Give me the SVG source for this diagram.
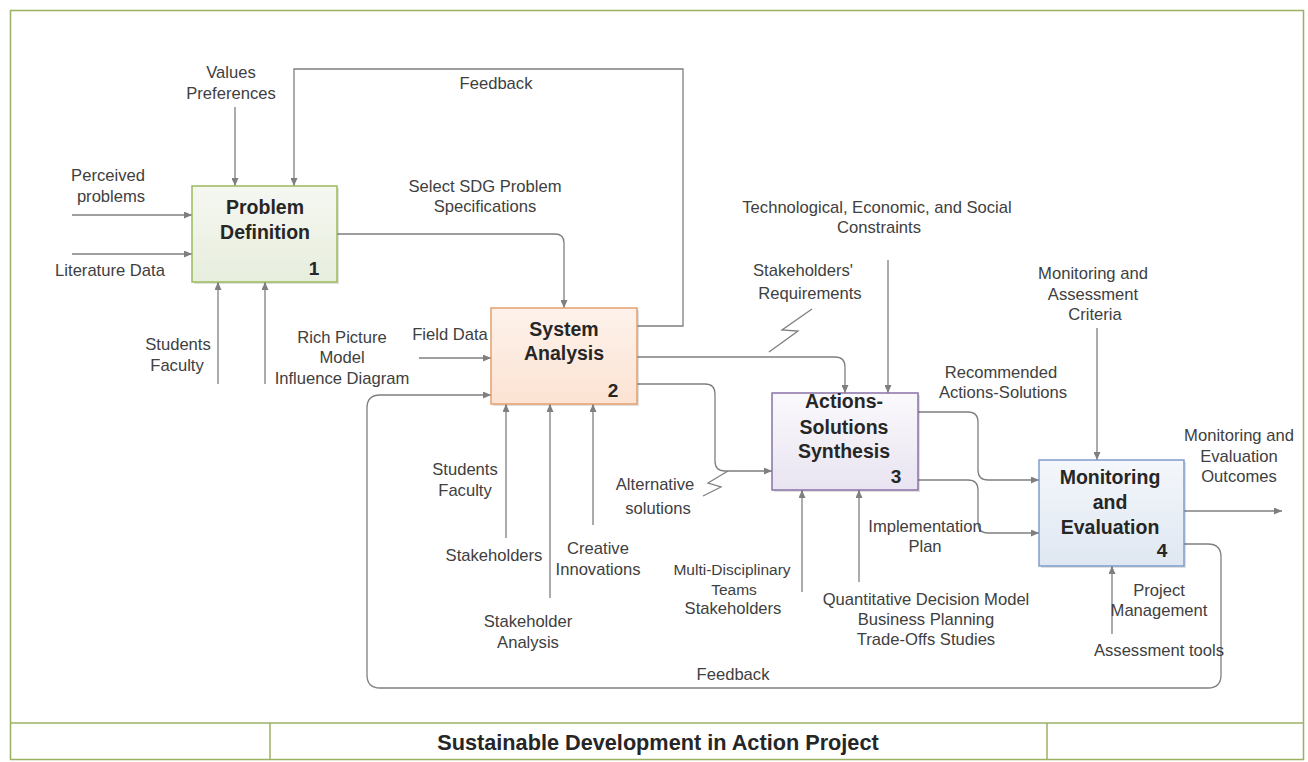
<svg xmlns="http://www.w3.org/2000/svg" width="1308" height="762" viewBox="0 0 1308 762">
  <style>
    .lbl { font-family: "Liberation Sans", Arial, sans-serif; font-size: 16.6px; fill: #404040; text-anchor: middle; }
    .sm { font-size: 15.5px; }
    .ttl { font-family: "Liberation Sans", Arial, sans-serif; font-size: 19.5px; font-weight: bold; fill: #262626; text-anchor: middle; }
    .num { font-family: "Liberation Sans", Arial, sans-serif; font-size: 19px; font-weight: bold; fill: #262626; text-anchor: middle; }
    .head { font-family: "Liberation Sans", Arial, sans-serif; font-size: 21.7px; font-weight: bold; fill: #262626; text-anchor: middle; }
    .wire { fill: none; stroke: #7f7f7f; stroke-width: 1.3; }
    .arr { marker-end: url(#ah); }
    .frame { fill: none; stroke: #9bb063; stroke-width: 1.5; }
    .shadow { fill: #000; opacity: 0.12; }
  </style>
  <defs>
    <marker id="ah" markerUnits="userSpaceOnUse" markerWidth="8" markerHeight="7" refX="8" refY="3.5" orient="auto">
      <path d="M0,0 L8,3.5 L0,7 z" fill="#7f7f7f"/>
    </marker>
    <linearGradient id="g1" x1="0" y1="0" x2="0" y2="1">
      <stop offset="0" stop-color="#f5f7f1"/>
      <stop offset="1" stop-color="#e7eedd"/>
    </linearGradient>
    <linearGradient id="g2" x1="0" y1="0" x2="0" y2="1">
      <stop offset="0" stop-color="#fdf2eb"/>
      <stop offset="1" stop-color="#fce3d3"/>
    </linearGradient>
    <linearGradient id="g3" x1="0" y1="0" x2="0" y2="1">
      <stop offset="0" stop-color="#faf9fc"/>
      <stop offset="1" stop-color="#e9e4f1"/>
    </linearGradient>
    <linearGradient id="g4" x1="0" y1="0" x2="0" y2="1">
      <stop offset="0" stop-color="#f4f7fb"/>
      <stop offset="1" stop-color="#dfe7f2"/>
    </linearGradient>
  </defs>

  <rect width="1308" height="762" fill="#ffffff"/>

  <!-- outer frame and title block -->
  <g id="frame">
    <rect class="frame" x="10.5" y="10.5" width="1293" height="749"/>
    <line class="frame" x1="10.5" y1="723" x2="1303.5" y2="723"/>
    <line class="frame" x1="270" y1="723" x2="270" y2="759.5"/>
    <line class="frame" x1="1047" y1="723" x2="1047" y2="759.5"/>
    <text class="head" x="658" y="749.5">Sustainable Development in Action Project</text>
  </g>

  <!-- connectors -->
  <g id="connectors">
    <!-- inputs to Problem Definition -->
    <path class="wire arr" d="M72,215 H192"/>
    <path class="wire arr" d="M72,254 H192"/>
    <path class="wire arr" d="M235,107 V186"/>
    <path class="wire arr" d="M218,384 V282"/>
    <path class="wire arr" d="M265,384 V282"/>
    <!-- top feedback: System Analysis back to Problem Definition -->
    <path class="wire arr" d="M637,326 H683 V69 H294 V186"/>
    <!-- Problem Definition to System Analysis -->
    <path class="wire arr" d="M337,234 H555 Q564,234 564,243 V308"/>
    <!-- Field Data -->
    <path class="wire arr" d="M419,358 H491"/>
    <!-- inputs under System Analysis -->
    <path class="wire arr" d="M506,538 V404"/>
    <path class="wire arr" d="M550,598 V404"/>
    <path class="wire arr" d="M593,525 V404"/>
    <!-- System Analysis to Synthesis -->
    <path class="wire arr" d="M637,357 H835 Q845,357 845,367 V393"/>
    <path class="wire arr" d="M637,384 H705 Q715,384 715,394 V461 Q715,471 725,471 H772"/>
    <!-- squiggles -->
    <polyline class="wire" points="812,309 782,330 798,331 769,352"/>
    <polyline class="wire" points="728,471 708,483 721,487 703,496"/>
    <!-- constraints -->
    <path class="wire arr" d="M888,260 V393"/>
    <!-- inputs under Synthesis -->
    <path class="wire arr" d="M802,592 V490"/>
    <path class="wire arr" d="M859,582 V490"/>
    <!-- Synthesis to Monitoring and Evaluation -->
    <path class="wire arr" d="M918,412 H968 Q978,412 978,422 V470 Q978,480 988,480 H1039"/>
    <path class="wire arr" d="M918,480 H968 Q978,480 978,490 V523 Q978,533 988,533 H1039"/>
    <!-- criteria -->
    <path class="wire arr" d="M1097,328 V460"/>
    <!-- outcomes -->
    <path class="wire arr" d="M1184,511 H1282"/>
    <!-- project management -->
    <path class="wire arr" d="M1112,634 V566"/>
    <!-- bottom feedback loop -->
    <path class="wire arr" d="M1184,544 H1208 Q1221,544 1221,557 V675 Q1221,688 1208,688 H380 Q367,688 367,675 V408 Q367,395 380,395 H491"/>
  </g>

  <!-- connector labels -->
  <g id="labels">
    <text class="lbl" x="231" y="78">Values</text>
    <text class="lbl" x="231" y="99">Preferences</text>
    <text class="lbl" x="108" y="181">Perceived</text>
    <text class="lbl" x="111" y="202">problems</text>
    <text class="lbl" x="110" y="276">Literature Data</text>
    <text class="lbl" x="178" y="350">Students</text>
    <text class="lbl" x="177" y="371">Faculty</text>
    <text class="lbl" x="342" y="343">Rich Picture</text>
    <text class="lbl" x="342" y="363">Model</text>
    <text class="lbl" x="342" y="384">Influence Diagram</text>
    <text class="lbl" x="496" y="89">Feedback</text>
    <text class="lbl" x="485" y="192">Select SDG Problem</text>
    <text class="lbl" x="485" y="212">Specifications</text>
    <text class="lbl" x="450" y="340">Field Data</text>
    <text class="lbl" x="877" y="213">Technological, Economic, and Social</text>
    <text class="lbl" x="879" y="233">Constraints</text>
    <text class="lbl" x="803" y="276">Stakeholders'</text>
    <text class="lbl" x="810" y="299">Requirements</text>
    <text class="lbl" x="1093" y="279">Monitoring and</text>
    <text class="lbl" x="1093" y="300">Assessment</text>
    <text class="lbl" x="1095" y="320">Criteria</text>
    <text class="lbl" x="1001" y="378">Recommended</text>
    <text class="lbl" x="1003" y="398">Actions-Solutions</text>
    <text class="lbl" x="1239" y="441">Monitoring and</text>
    <text class="lbl" x="1239" y="462">Evaluation</text>
    <text class="lbl" x="1239" y="482">Outcomes</text>
    <text class="lbl" x="655" y="490">Alternative</text>
    <text class="lbl" x="658" y="514">solutions</text>
    <text class="lbl" x="465" y="475">Students</text>
    <text class="lbl" x="465" y="496">Faculty</text>
    <text class="lbl" x="494" y="561">Stakeholders</text>
    <text class="lbl" x="598" y="554">Creative</text>
    <text class="lbl" x="598" y="575">Innovations</text>
    <text class="lbl" x="528" y="627">Stakeholder</text>
    <text class="lbl" x="528" y="648">Analysis</text>
    <text class="lbl sm" x="732" y="575">Multi-Disciplinary</text>
    <text class="lbl sm" x="734" y="595">Teams</text>
    <text class="lbl" x="733" y="614">Stakeholders</text>
    <text class="lbl" x="925" y="532">Implementation</text>
    <text class="lbl" x="925" y="552">Plan</text>
    <text class="lbl" x="926" y="605">Quantitative Decision Model</text>
    <text class="lbl" x="926" y="625">Business Planning</text>
    <text class="lbl" x="926" y="645">Trade-Offs Studies</text>
    <text class="lbl" x="1159" y="596">Project</text>
    <text class="lbl" x="1159" y="616">Management</text>
    <text class="lbl" x="1159" y="656">Assessment tools</text>
    <text class="lbl" x="733" y="680">Feedback</text>
  </g>

  <!-- activity boxes -->
  <g id="node1">
    <rect class="shadow" x="194" y="188" width="145" height="96"/>
    <rect x="192" y="186" width="145" height="96" fill="url(#g1)" stroke="#9bbb59" stroke-width="1.5"/>
    <text class="ttl" x="265" y="214">Problem</text>
    <text class="ttl" x="265" y="238.5">Definition</text>
    <text class="num" x="314" y="275">1</text>
  </g>
  <g id="node2">
    <rect class="shadow" x="493" y="310" width="146" height="96"/>
    <rect x="491" y="308" width="146" height="96" fill="url(#g2)" stroke="#e4a06c" stroke-width="1.5"/>
    <text class="ttl" x="564" y="336">System</text>
    <text class="ttl" x="564" y="360">Analysis</text>
    <text class="num" x="613" y="397">2</text>
  </g>
  <g id="node3">
    <rect class="shadow" x="774" y="395" width="146" height="97"/>
    <rect x="772" y="393" width="146" height="97" fill="url(#g3)" stroke="#8a72a8" stroke-width="1.5"/>
    <text class="ttl" x="844" y="407.5">Actions-</text>
    <text class="ttl" x="844" y="433.5">Solutions</text>
    <text class="ttl" x="844" y="458">Synthesis</text>
    <text class="num" x="896" y="483">3</text>
  </g>
  <g id="node4">
    <rect class="shadow" x="1041" y="462" width="145" height="106"/>
    <rect x="1039" y="460" width="145" height="106" fill="url(#g4)" stroke="#7f9ccb" stroke-width="1.5"/>
    <text class="ttl" x="1110" y="483.5">Monitoring</text>
    <text class="ttl" x="1110" y="508.5">and</text>
    <text class="ttl" x="1110" y="534">Evaluation</text>
    <text class="num" x="1162" y="557">4</text>
  </g>
</svg>
